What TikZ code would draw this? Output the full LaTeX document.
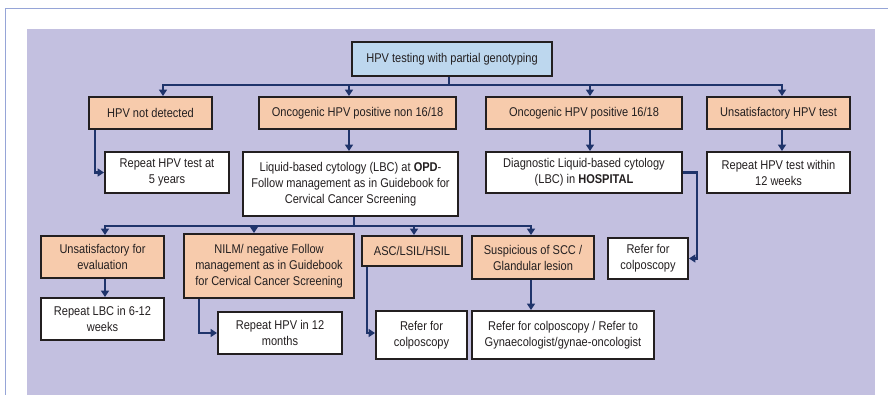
\documentclass[tikz,border=0pt]{standalone}
\usepackage{fontspec}
\setmainfont[FakeStretch=0.87]{Liberation Sans}
\usetikzlibrary{arrows.meta,calc}
\definecolor{bgp}{RGB}{195,192,224}
\definecolor{frm}{RGB}{150,165,215}
\definecolor{orf}{RGB}{247,203,172}
\definecolor{blf}{RGB}{189,215,238}
\definecolor{navy}{RGB}{31,52,107}
\definecolor{txt}{RGB}{35,31,32}
\begin{document}
\begin{tikzpicture}[x=1pt,y=-1pt,
  box/.style={draw=txt, line width=1.9pt, inner sep=0pt, align=center,
    font=\fontsize{12.7}{16}\selectfont, text=txt},
  obox/.style={box, fill=orf},
  wbox/.style={box, fill=white},
  arr/.style={draw=navy, line width=2.7pt, line join=miter,
    -{Triangle[length=6.5pt,width=8pt]}},
  tarr/.style={arr, line width=1.6pt},
  frame/.style={draw=frm, line width=1.3pt}]
\useasboundingbox (0,0) rectangle (888,395);
\fill[white] (0,0) rectangle (888,395);
\draw[frame] (5.5,395) -- (5.5,8.5) -- (888,8.5);
\fill[bgp] (27,29) rectangle (875,395);

% top
\node[box, fill=blf, minimum width=200pt, minimum height=34pt] (top) at (452,59) {HPV testing with partial genotyping};

% row 1
\node[obox, minimum width=123pt, minimum height=32pt] (n1) at (150.5,113) {HPV not detected};
\node[obox, minimum width=197pt, minimum height=32pt] (n2) at (357.5,113) {Oncogenic HPV positive non 16/18};
\node[obox, minimum width=196pt, minimum height=32pt] (n3) at (584,113) {Oncogenic HPV positive 16/18};
\node[obox, minimum width=143pt, minimum height=32pt] (n4) at (778.5,113) {Unsatisfactory HPV test};

% row 2
\node[wbox, minimum width=124pt, minimum height=41pt] (r1) at (167,172.5) {Repeat HPV test at\\5 years};
\node[wbox, minimum width=215pt, minimum height=64pt] (r2) at (350.5,184) {Liquid-based cytology (LBC) at \textbf{OPD}-\\Follow management as in Guidebook for\\Cervical Cancer Screening};
\node[wbox, minimum width=196pt, minimum height=41pt] (r3) at (584,172.5) {Diagnostic Liquid-based cytology\\(LBC) in \textbf{HOSPITAL}};
\node[wbox, minimum width=143pt, minimum height=41pt] (r4) at (778.5,172.5) {Repeat HPV test within\\12 weeks};
\node[wbox, minimum width=80pt, minimum height=41pt] (rc) at (648,258.5) {Refer for\\colposcopy};

% row 3
\node[obox, minimum width=123pt, minimum height=42pt] (s1) at (102.5,257) {Unsatisfactory for\\evaluation};
\node[obox, minimum width=170pt, minimum height=64pt] (s2) at (269,266) {NILM/ negative Follow\\management as in Guidebook\\for Cervical Cancer Screening};
\node[obox, minimum width=100pt, minimum height=30pt] (s3) at (412,251) {ASC/LSIL/HSIL};
\node[obox, minimum width=122pt, minimum height=43pt] (s4) at (533,257.5) {Suspicious of SCC /\\Glandular lesion};

% row 4
\node[wbox, minimum width=123pt, minimum height=42pt] (t1) at (102.5,319) {Repeat LBC in 6-12\\weeks};
\node[wbox, minimum width=124pt, minimum height=42pt] (t2) at (280,333) {Repeat HPV in 12\\months};
\node[wbox, minimum width=91pt, minimum height=48pt] (t3) at (421.5,335) {Refer for\\colposcopy};
\node[wbox, minimum width=182pt, minimum height=48pt] (t4) at (563,335) {Refer for colposcopy / Refer to\\Gynaecologist/gynae-oncologist};

% connectors: top to row 1
\coordinate (bus) at (0,85);
\coordinate (tb) at ($(top.south)+(-3,0)$);
\coordinate (a1) at ($(n1.north)+(12.5,0)$);
\coordinate (a2) at ($(n2.north)+(-8.5,0)$);
\coordinate (a3) at ($(n3.north)+(6,0)$);
\coordinate (a4) at ($(n4.north)+(3.5,0)$);
\foreach \t in {a1,a2,a3,a4}
  \draw[arr] (tb) -- (tb |- bus) -| (\t);

% row 1 to row 2
\draw[arr] ($(n1.south west)+(7,0)$) |- (r1.west);
\coordinate (b2) at ($(n2.south)+(-8.5,0)$);
\draw[arr] (b2) -- (b2 |- r2.north);
\coordinate (b3) at ($(n3.south)+(6,0)$);
\draw[arr] (b3) -- (b3 |- r3.north);
\coordinate (b4) at ($(n4.south)+(3.5,0)$);
\draw[arr] (b4) -- (b4 |- r4.north);
\draw[arr] (r3.east) -- ++(14,0) |- (rc.east);

% LBC to row 3
\coordinate (bus2) at (0,226);
\coordinate (rb) at ($(r2.south)+(3.5,0)$);
\coordinate (c1) at ($(s1.north)+(2.5,0)$);
\coordinate (c2) at ($(s2.north)+(-15,0)$);
\coordinate (c3) at ($(s3.north)+(2,0)$);
\coordinate (c4) at ($(s4.north)+(-2,0)$);
\foreach \t in {c1,c2,c3,c4}
  \draw[arr] (rb) -- (rb |- bus2) -| (\t);

% row 3 to row 4
\draw[arr] (s1.south -| c1) -- (t1.north -| c1);
\draw[arr] ($(s2.south west)+(16,0)$) |- (t2.west);
\draw[tarr] ($(s3.south west)+(6,0)$) |- ($(t3.west)+(0,-2)$);
\draw[arr] (s4.south -| c4) -- (t4.north -| c4);
\end{tikzpicture}
\end{document}
